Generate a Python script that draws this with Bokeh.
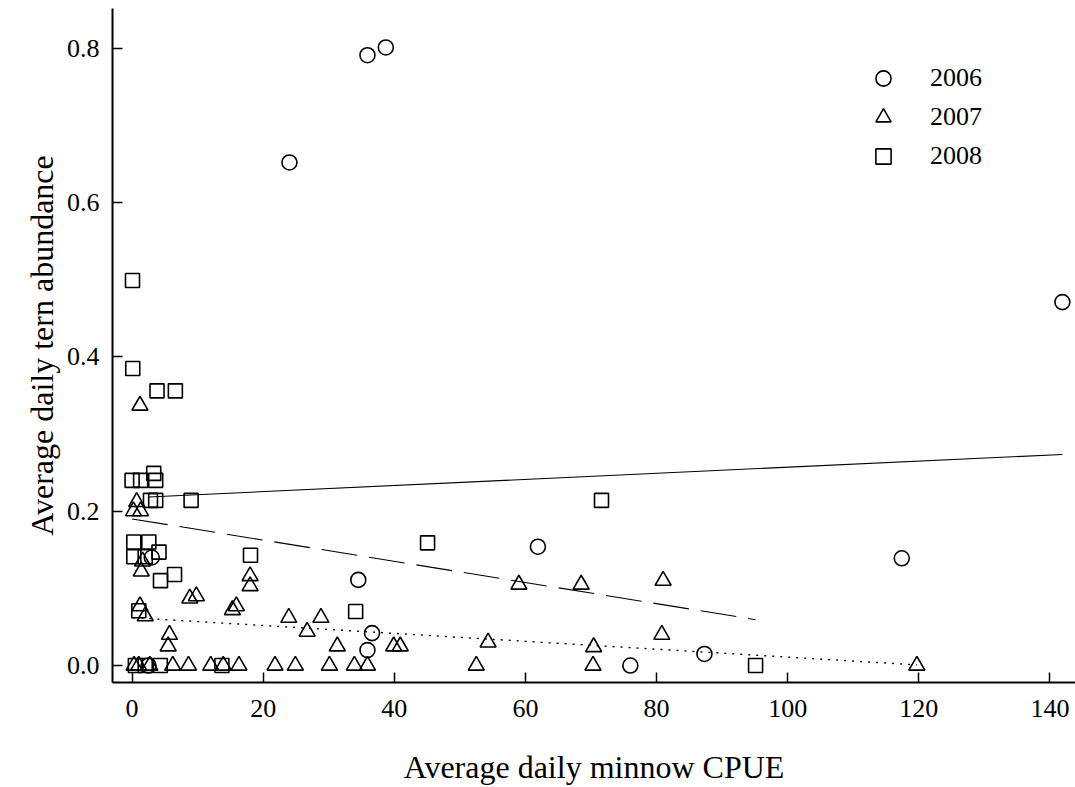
import numpy as np
from bokeh.plotting import figure
from bokeh.models import Range1d, Legend, LegendItem, FixedTicker, PrintfTickFormatter
from bokeh.embed import file_html
from bokeh.resources import INLINE

# ---- data ----
x_2006 = [2.5, 3.0, 24.0, 35.9, 38.7, 141.9, 61.9, 117.4, 34.5, 36.6, 35.9, 76.0, 87.3]
y_2006 = [0.0, 0.14, 0.652, 0.791, 0.801, 0.471, 0.154, 0.139, 0.111, 0.042, 0.020, 0.0, 0.015]

x_2007 = [0.3, 1.0, 2.7, 6.2, 8.6, 12.0, 13.9, 16.3, 21.8, 24.9, 30.1, 33.9, 35.9, 52.5, 70.3, 119.7,
          1.2, 0.7, 0.2, 1.3, 1.6, 1.4, 2.0, 1.2, 5.7, 5.5, 9.8, 8.8, 15.9, 15.3, 18.0, 18.0,
          23.9, 28.8, 26.7, 31.3, 39.9, 40.9, 59.0, 68.5, 81.0, 54.3, 70.4, 80.8]
y_2007 = [0.0, 0.0, 0.0, 0.0, 0.0, 0.0, 0.0, 0.0, 0.0, 0.0, 0.0, 0.0, 0.0, 0.0, 0.0, 0.0,
          0.337, 0.212, 0.200, 0.200, 0.135, 0.122, 0.064, 0.077, 0.040, 0.025, 0.090, 0.087,
          0.077, 0.072, 0.116, 0.103, 0.062, 0.062, 0.044, 0.025, 0.025, 0.025, 0.105, 0.105,
          0.110, 0.030, 0.024, 0.040]

x_2008 = [0.06, 0.1, 3.8, 6.6, 0.0, 1.3, 3.3, 3.6, 3.6, 2.8, 9.0, 0.26, 2.55, 0.26, 2.0, 4.1,
          18.06, 4.33, 6.47, 1.02, 0.5, 2.0, 4.3, 13.7, 45.07, 71.6, 34.1, 95.1]
y_2008 = [0.499, 0.385, 0.356, 0.356, 0.240, 0.240, 0.249, 0.240, 0.214, 0.214, 0.214, 0.160,
          0.160, 0.141, 0.141, 0.147, 0.143, 0.110, 0.118, 0.071, 0.0, 0.0, 0.0, 0.0, 0.159,
          0.214, 0.070, 0.0]

# regression fits: (intercept, slope)
fit_2006 = (0.2175, 0.000395)
fit_2007 = (0.0621, -0.000512)
fit_2008 = (0.190, -0.001373)

x_ticks = [0, 20, 40, 60, 80, 100, 120, 140]
y_ticks = [0.0, 0.2, 0.4, 0.6, 0.8]

FONT = "Liberation Serif"

p = figure(width=1075, height=787, output_backend="svg", toolbar_location=None,
           x_range=Range1d(-2.99, 143.9), y_range=Range1d(-0.022, 0.8515),
           min_border_left=112, min_border_right=0, min_border_top=8, min_border_bottom=105)
p.outline_line_color = None
p.xgrid.visible = False
p.ygrid.visible = False
p.background_fill_color = "white"
p.border_fill_color = "white"

def fit_line(xs, fit):
    xr = np.array([min(xs), max(xs)])
    return xr, fit[0] + fit[1] * xr

lx, ly = fit_line(x_2006, fit_2006)
p.line(lx, ly, line_color="black", line_width=1.1)
lx, ly = fit_line(x_2007, fit_2007)
p.line(lx, ly, line_color="black", line_width=1.4, line_dash="2 6")
lx, ly = fit_line(x_2008, fit_2008)
p.line(lx, ly, line_color="black", line_width=1.1, line_dash="36 12")

r06 = p.scatter(x_2006, y_2006, marker="circle", size=15, fill_color=None,
                line_color="black", line_width=1.6)
r07 = p.scatter(x_2007, y_2007, marker="triangle", size=16, fill_color=None,
                line_color="black", line_width=1.6)
r08 = p.scatter(x_2008, y_2008, marker="square", size=14, fill_color=None,
                line_color="black", line_width=1.6)

for ax in (p.xaxis[0], p.yaxis[0]):
    ax.axis_line_width = 2
    ax.axis_line_color = "black"
    ax.major_tick_in = 10
    ax.major_tick_out = 0
    ax.major_tick_line_width = 1.5
    ax.minor_tick_line_color = None
    ax.major_label_text_font = FONT
    ax.major_label_text_font_size = "26px"
    ax.major_label_text_color = "black"
    ax.axis_label_text_font = FONT
    ax.axis_label_text_font_size = "32px"
    ax.axis_label_text_font_style = "normal"
    ax.axis_label_text_color = "black"

p.xaxis.ticker = FixedTicker(ticks=x_ticks)
p.yaxis.ticker = FixedTicker(ticks=y_ticks)
p.yaxis.formatter = PrintfTickFormatter(format="%.1f")
p.xaxis.axis_label = "Average daily minnow CPUE"
p.yaxis.axis_label = "Average daily tern abundance"
p.xaxis.major_label_standoff = 17
p.xaxis.axis_label_standoff = 29
p.yaxis.major_label_standoff = 13
p.yaxis.axis_label_standoff = 4

legend = Legend(items=[LegendItem(label="2006", renderers=[r06]),
                       LegendItem(label="2007", renderers=[r07]),
                       LegendItem(label="2008", renderers=[r08])],
                location=(752, 507), border_line_color=None, background_fill_alpha=0,
                padding=0, margin=0, spacing=1, glyph_height=38, glyph_width=38,
                label_height=38, label_standoff=28, label_text_font=FONT,
                label_text_font_size="26px", label_text_color="black",
                label_text_baseline="middle")
p.add_layout(legend)

open("out.html", "w").write(file_html(p, INLINE))
